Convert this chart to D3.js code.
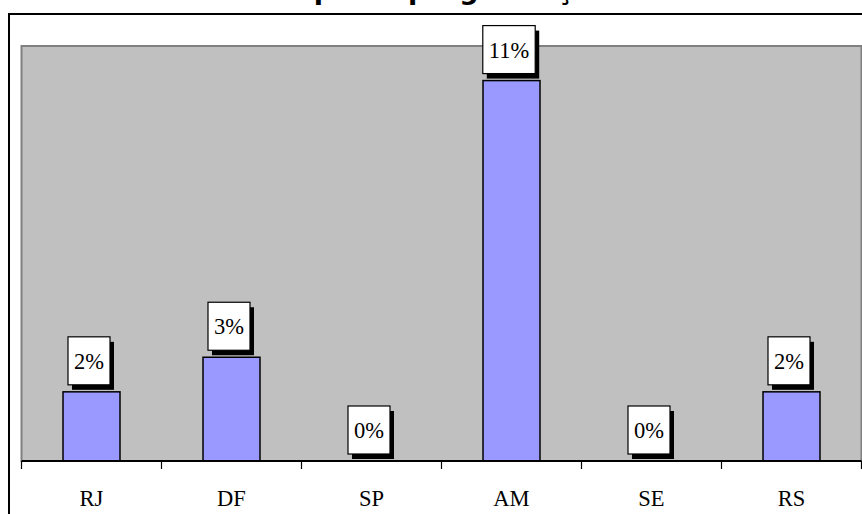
<!DOCTYPE html>
<html>
<head>
<meta charset="utf-8">
<script src="https://cdn.jsdelivr.net/npm/d3@7"></script>
<style>
  html, body { margin: 0; padding: 0; background: #fff; }
  svg { display: block; }
</style>
</head>
<body>
<div id="chart"></div>
<script>
// Share of programming by state
const categories = ["RJ", "DF", "SP", "AM", "SE", "RS"];
const values = [0.02, 0.03, 0.00, 0.11, 0.00, 0.02];
const yDomain = [0, 0.12];
const title = "Tipo de programação";

const W = 862, H = 514;
const plot = { left: 21.5, top: 46, width: 840, height: 415 };

const svg = d3.select("#chart").append("svg")
  .attr("width", W).attr("height", H);

// chart area frame
svg.append("rect")
  .attr("x", 9).attr("y", 14)
  .attr("width", 900).attr("height", 600)
  .attr("fill", "#fff").attr("stroke", "#000").attr("stroke-width", 2);

// title, sitting above the top edge of the page
svg.append("text")
  .attr("x", 286).attr("y", -1)
  .attr("font-family", "'DejaVu Sans', Verdana, sans-serif")
  .attr("font-weight", "bold")
  .attr("font-size", 27)
  .attr("fill", "#000")
  .text(title);

const x = d3.scaleBand()
  .domain(categories)
  .range([plot.left, plot.left + plot.width])
  .paddingInner(0.593).paddingOuter(0.2965);

const y = d3.scaleLinear()
  .domain(yDomain)
  .range([plot.top + plot.height, plot.top]);

// plot background
svg.append("rect")
  .attr("x", plot.left).attr("y", plot.top)
  .attr("width", plot.width).attr("height", plot.height)
  .attr("fill", "#C0C0C0").attr("stroke", "#808080").attr("stroke-width", 2);

const data = categories.map((c, i) => ({ cat: c, v: values[i] }));

// bars
svg.append("g").selectAll("rect")
  .data(data.filter(d => d.v > 0))
  .join("rect")
  .attr("x", d => x(d.cat))
  .attr("y", d => y(d.v))
  .attr("width", x.bandwidth())
  .attr("height", d => y(0) - y(d.v))
  .attr("fill", "#9999FF")
  .attr("stroke", "#000")
  .attr("stroke-width", 1.5);

// category axis
const band = plot.width / categories.length;
const axisG = svg.append("g")
  .attr("transform", `translate(0,${y(0)})`);
axisG.append("line")
  .attr("x1", plot.left).attr("x2", plot.left + plot.width)
  .attr("stroke", "#000").attr("stroke-width", 2);
axisG.selectAll("line.tick")
  .data(d3.range(categories.length + 1))
  .join("line")
  .attr("class", "tick")
  .attr("x1", i => plot.left + i * band)
  .attr("x2", i => plot.left + i * band)
  .attr("y1", 0).attr("y2", 8)
  .attr("stroke", "#000").attr("stroke-width", 1.2);
axisG.selectAll("text")
  .data(categories)
  .join("text")
  .attr("x", d => x(d) + x.bandwidth() / 2)
  .attr("y", 45)
  .attr("text-anchor", "middle")
  .attr("font-family", "'Liberation Serif', 'Times New Roman', serif")
  .attr("font-size", 22.5)
  .attr("fill", "#000")
  .text(d => d);

// value labels in boxes with drop shadow
const fmt = d3.format(".0%");
const labels = svg.append("g").selectAll("g")
  .data(data)
  .join("g");

labels.each(function(d) {
  const g = d3.select(this);
  const cx = x(d.cat) + x.bandwidth() / 2 - 2.5;
  const bottom = y(d.v) - 7;
  const t = g.append("text")
    .attr("font-family", "'Liberation Serif', 'Times New Roman', serif")
    .attr("font-size", 22.5)
    .attr("text-anchor", "middle")
    .attr("fill", "#000")
    .text(fmt(d.v));
  const tw = t.node().getComputedTextLength();
  const bw = tw + 12, bh = 48;
  g.insert("rect", "text")
    .attr("x", cx - bw / 2 + 4).attr("y", bottom - bh + 5)
    .attr("width", bw).attr("height", bh)
    .attr("fill", "#000");
  g.insert("rect", "text")
    .attr("x", cx - bw / 2).attr("y", bottom - bh)
    .attr("width", bw).attr("height", bh)
    .attr("fill", "#fff").attr("stroke", "#000").attr("stroke-width", 1.2);
  t.attr("x", cx).attr("y", bottom - bh / 2 + 8);
});
</script>
</body>
</html>
